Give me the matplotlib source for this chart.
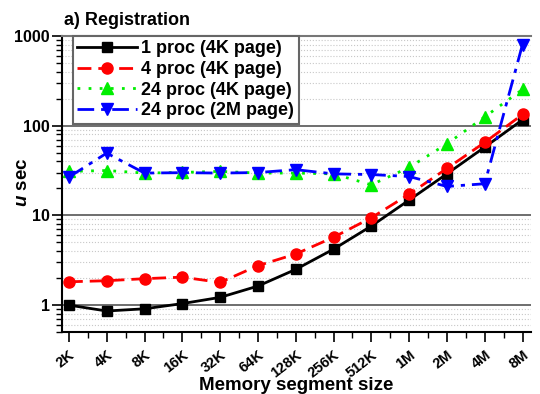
import matplotlib
matplotlib.use("Agg")
import matplotlib.pyplot as plt
from matplotlib.ticker import LogLocator, NullFormatter, FixedLocator

plt.rcParams['font.family'] = ['Liberation Sans', 'DejaVu Sans']
plt.rcParams['font.weight'] = 'bold'
plt.rcParams['mathtext.fontset'] = 'custom'
plt.rcParams['mathtext.rm'] = 'Liberation Sans:bold'
plt.rcParams['mathtext.bfit'] = 'Liberation Sans:italic:bold'

# data
sizes = ['2K', '4K', '8K', '16K', '32K', '64K', '128K', '256K', '512K', '1M', '2M', '4M', '8M']
p1_4k = [1.0, 0.86, 0.91, 1.04, 1.22, 1.63, 2.5, 4.2, 7.6, 14.8, 29, 57.6, 116]
p4_4k = [1.82, 1.87, 1.97, 2.05, 1.79, 2.75, 3.71, 5.7, 9.4, 17.2, 33.3, 65, 133]
p24_4k = [30.9, 31.6, 29.6, 30.1, 30.9, 29.6, 29.6, 29.0, 21.9, 34.2, 62.6, 125, 253]
p24_2m = [26.7, 49.4, 29.6, 29.9, 29.6, 30.0, 32.3, 29.0, 28.5, 27.1, 21.0, 22.5, 800]

x = list(range(len(sizes)))

fig = plt.figure(figsize=(5.4, 3.94), dpi=100)
ax = fig.add_axes([0.115, 0.157, 0.868, 0.752])

ax.plot(x, p1_4k, color='black', ls='-', lw=2, marker='s', ms=7, label='1 proc (4K page)')
ax.plot(x, p4_4k, color='red', ls=(0, (5, 2.5)), lw=2, marker='o', ms=8, label='4 proc (4K page)')
ax.plot(x, p24_4k, color='#00ee00', ls=(0, (1, 3)), lw=2, marker='^', ms=8, label='24 proc (4K page)')
ax.plot(x, p24_2m, color='blue', ls=(0, (6, 2.5, 1.5, 2.5)), lw=2, marker='v', ms=8, label='24 proc (2M page)')

ax.set_yscale('log')
ax.set_ylim(0.5, 1000)
ax.set_xlim(-0.18, 12.22)

ax.yaxis.set_major_locator(FixedLocator([1, 10, 100, 1000]))
ax.set_yticklabels(['1', '10', '100', '1000'])
ax.yaxis.set_minor_locator(LogLocator(base=10, subs=range(2, 10)))
ax.yaxis.set_minor_formatter(NullFormatter())

ax.set_xticks(x)
ax.set_xticklabels(sizes, rotation=38, ha='right', rotation_mode='anchor')
ax.set_xticks([i + 0.5 for i in x[:-1]], minor=True)

ax.tick_params(axis='both', which='major', direction='out', length=7, width=1.2, labelsize=11.5)
ax.tick_params(axis='both', which='minor', direction='out', length=4, width=1)
ax.tick_params(axis='x', which='major', labelsize=10.5, pad=4)
ax.tick_params(axis='y', which='major', pad=2)

ax.grid(True, axis='y', which='major', color='#555555', lw=1.2)
ax.grid(True, axis='y', which='minor', color='#c8c8c8', lw=0.8, ls=':')
ax.set_axisbelow(True)

ax.spines['right'].set_visible(False)
ax.spines['top'].set_color('#777777')
ax.spines['top'].set_linewidth(1.5)
ax.spines['left'].set_linewidth(1.5)
ax.spines['bottom'].set_linewidth(1.5)

fig.text(0.548, 0.022, 'Memory segment size', fontsize=13.5, fontweight='bold',
         ha='center', va='center')
fig.text(0.042, 0.538, r'$\mathbfit{u}$ sec', fontsize=13.5, fontweight='bold',
         rotation=90, ha='center', va='center')
ax.set_title('a) Registration', loc='left', fontsize=13, fontweight='bold', pad=8, x=0.005)

leg = ax.legend(loc='upper left', bbox_to_anchor=(0.023, 1.0), fontsize=13, frameon=True,
                fancybox=False, borderaxespad=0, handlelength=3.3, borderpad=0.25,
                labelspacing=0.2, handletextpad=0.25)
leg.get_frame().set_edgecolor('#666666')
leg.get_frame().set_linewidth(1.5)
leg.get_frame().set_alpha(1)

fig.savefig('out.png', dpi=100)
